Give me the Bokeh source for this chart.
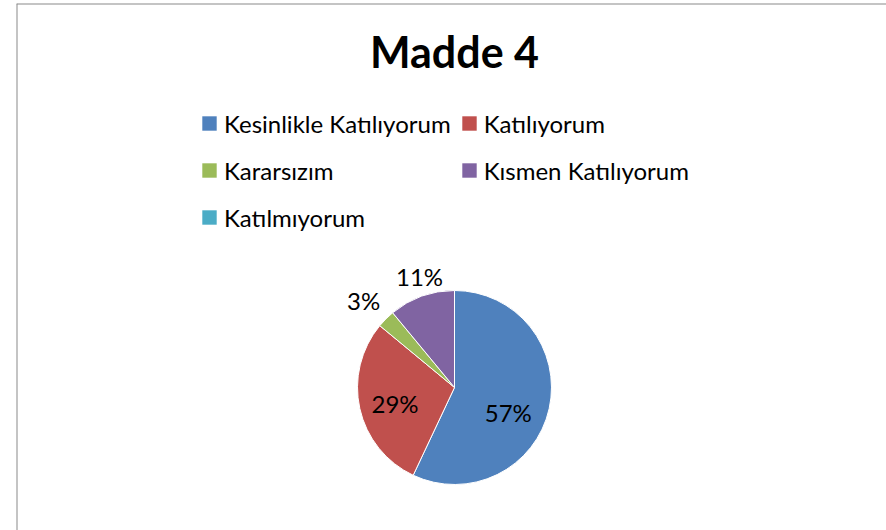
import math
from bokeh.plotting import figure
from bokeh.models import Range1d, Legend, LegendItem, Label, Span
from bokeh.core.properties import value
from bokeh.embed import file_html
from bokeh.resources import INLINE

# ---- data ----
title_text = "Madde 4"
categories = ["Kesinlikle Katılıyorum", "Katılıyorum", "Kararsızım", "Kısmen Katılıyorum", "Katılmıyorum"]
percents = [57, 29, 3, 11, 0]
colors = ["#4F81BD", "#C0504D", "#9BBB59", "#8064A2", "#4BACC6"]

# ---- layout / style constants ----
W, H = 886, 530
BL, BT = 16, 3
FW, FH = W - BL, H - BT
CX, CY, R = 438, 143, 97          # pie centre / radius in frame pixels
label_radius_factor = [0.62, 0.64, 1.28, 1.18, 1.0]
label_angle_shift_deg = [-14, 4, 2, -2, 0]
FONT = "Lato"

p = figure(width=W, height=H, output_backend="svg", toolbar_location=None,
           x_range=Range1d(0, FW), y_range=Range1d(0, FH),
           min_border_left=BL, min_border_right=0, min_border_top=BT, min_border_bottom=0)
p.axis.visible = False
p.grid.visible = False
p.outline_line_color = None
p.background_fill_color = "white"
p.border_fill_color = "white"

total = float(sum(percents))
starts, ends, mids = [], [], []
cum = 0.0
for v in percents:
    a0 = math.pi / 2 - 2 * math.pi * cum / total
    cum += v
    a1 = math.pi / 2 - 2 * math.pi * cum / total
    starts.append(a0)
    ends.append(a1)
    mids.append((a0 + a1) / 2)

# pie slices (zero-size slices are skipped)
for i, v in enumerate(percents):
    if v > 0:
        p.wedge(x=CX, y=CY, radius=R, start_angle=starts[i], end_angle=ends[i],
                direction="clock", fill_color=colors[i], line_color="white", line_width=1)

# legend swatches (zero-area renderers carrying only the style)
swatches = []
for i in range(len(categories)):
    swatches.append(p.quad(left=0, right=0, top=0, bottom=0, fill_color=colors[i], line_color=None))

# percentage labels
lx, ly, lt = [], [], []
for i, v in enumerate(percents):
    if v == 0:
        continue
    ang = mids[i] + math.radians(label_angle_shift_deg[i])
    rr = R * label_radius_factor[i]
    lx.append(CX + rr * math.cos(ang))
    ly.append(CY + 2 + rr * math.sin(ang))
    lt.append(f"{v}%")
p.text(x=lx, y=ly, text=lt, text_align="center", text_baseline="middle",
       text_font=value(FONT), text_font_size="24px", text_color="black")

# title
p.add_layout(Label(x=CX, y=FH - 48, text=title_text, text_align="center", text_baseline="middle",
                   text_font=FONT, text_font_size="43px", text_font_style="bold", text_color="black"))

# legend
items = [LegendItem(label=categories[i], renderers=[swatches[i]]) for i in range(len(categories))]
legend = Legend(items=items, orientation="horizontal", ncols=2,
                location=(184, FH - 233),
                label_text_font=FONT, label_text_font_size="24px", label_text_color="black",
                glyph_width=18, glyph_height=18, label_standoff=6,
                label_height=38, spacing=9, padding=0, margin=0,
                border_line_color=None, background_fill_alpha=0)
p.add_layout(legend, "center")

# chart-area border (left + top)
p.add_layout(Span(location=0, dimension="height", line_color="#8A8A8A", line_width=2))
p.add_layout(Span(location=FH, dimension="width", line_color="#8A8A8A", line_width=2))

open("out.html", "w").write(file_html(p, INLINE))
